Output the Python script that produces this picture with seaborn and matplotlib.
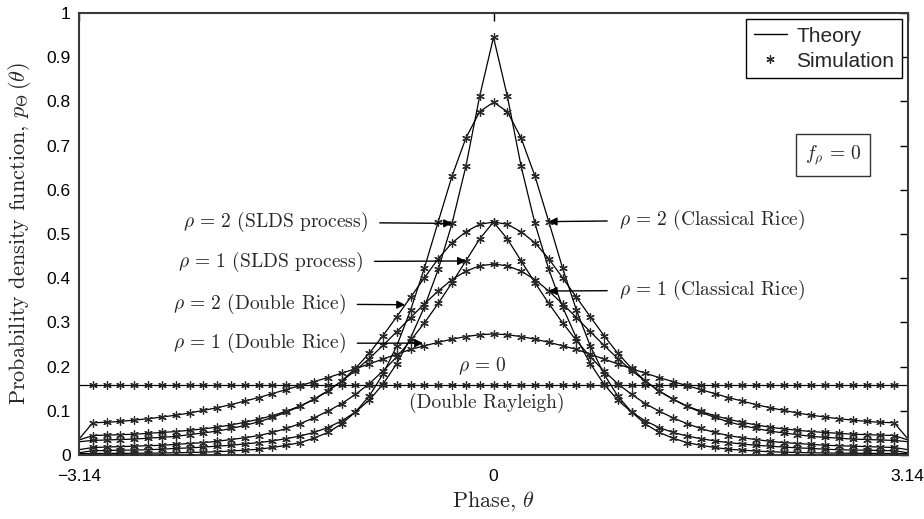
import numpy as np
import pandas as pd
import matplotlib
matplotlib.use("Agg")
import matplotlib.pyplot as plt
import seaborn as sns
from matplotlib.lines import Line2D

# ---------------- data ----------------
theta = np.linspace(-np.pi, np.pi, 61)

rho0_double_rayleigh = [0.159] * 61

rho2_slds = [0.005, 0.010, 0.010, 0.011, 0.011, 0.012, 0.013, 0.015, 0.016, 0.018,
             0.020, 0.022, 0.025, 0.028, 0.032, 0.037, 0.043, 0.051, 0.062, 0.077,
             0.097, 0.124, 0.160, 0.207, 0.265, 0.335, 0.420, 0.524, 0.653, 0.812,
             0.945,
             0.812, 0.653, 0.524, 0.420, 0.335, 0.265, 0.207, 0.160, 0.124, 0.097,
             0.077, 0.062, 0.051, 0.043, 0.037, 0.032, 0.028, 0.025, 0.022, 0.020,
             0.018, 0.016, 0.015, 0.013, 0.012, 0.011, 0.011, 0.010, 0.010, 0.005]

rho2_classical = [0.0030, 0.0035, 0.0036, 0.0038, 0.0040, 0.0042, 0.0045, 0.0050, 0.0056, 0.0064,
                  0.0074, 0.009, 0.011, 0.013, 0.017, 0.022, 0.028, 0.038, 0.051, 0.070,
                  0.097, 0.133, 0.183, 0.247, 0.328, 0.423, 0.528, 0.631, 0.717, 0.777,
                  0.798,
                  0.777, 0.717, 0.631, 0.528, 0.423, 0.328, 0.247, 0.183, 0.133, 0.097,
                  0.070, 0.051, 0.038, 0.028, 0.022, 0.017, 0.013, 0.011, 0.009, 0.0074,
                  0.0064, 0.0056, 0.0050, 0.0045, 0.0042, 0.0040, 0.0038, 0.0036, 0.0035, 0.0030]

rho1_slds = [0.012, 0.017, 0.018, 0.019, 0.020, 0.021, 0.022, 0.024, 0.026, 0.028,
             0.031, 0.035, 0.039, 0.044, 0.051, 0.060, 0.071, 0.084, 0.099, 0.116,
             0.137, 0.161, 0.190, 0.222, 0.259, 0.299, 0.343, 0.390, 0.439, 0.489,
             0.527,
             0.489, 0.439, 0.390, 0.343, 0.299, 0.259, 0.222, 0.190, 0.161, 0.137,
             0.116, 0.099, 0.084, 0.071, 0.060, 0.051, 0.044, 0.039, 0.035, 0.031,
             0.028, 0.026, 0.024, 0.022, 0.021, 0.020, 0.019, 0.018, 0.017, 0.012]

rho2_double_rice = [0.034, 0.044, 0.045, 0.046, 0.047, 0.049, 0.051, 0.053, 0.056, 0.059,
                    0.063, 0.068, 0.074, 0.081, 0.089, 0.099, 0.111, 0.126, 0.144, 0.167,
                    0.196, 0.230, 0.270, 0.313, 0.357, 0.401, 0.444, 0.480, 0.505, 0.522,
                    0.527,
                    0.522, 0.505, 0.480, 0.444, 0.401, 0.357, 0.313, 0.270, 0.230, 0.196,
                    0.167, 0.144, 0.126, 0.111, 0.099, 0.089, 0.081, 0.074, 0.068, 0.063,
                    0.059, 0.056, 0.053, 0.051, 0.049, 0.047, 0.046, 0.045, 0.044, 0.034]

rho1_classical = [0.030, 0.033, 0.034, 0.035, 0.036, 0.038, 0.040, 0.042, 0.046, 0.050,
                  0.054, 0.060, 0.067, 0.075, 0.085, 0.097, 0.110, 0.126, 0.145, 0.167,
                  0.191, 0.218, 0.248, 0.279, 0.311, 0.342, 0.371, 0.397, 0.416, 0.428,
                  0.432,
                  0.428, 0.416, 0.397, 0.371, 0.342, 0.311, 0.279, 0.248, 0.218, 0.191,
                  0.167, 0.145, 0.126, 0.110, 0.097, 0.085, 0.075, 0.067, 0.060, 0.054,
                  0.050, 0.046, 0.042, 0.040, 0.038, 0.036, 0.035, 0.034, 0.033, 0.030]

rho1_double_rice = [0.036, 0.073, 0.074, 0.076, 0.079, 0.082, 0.086, 0.090, 0.095, 0.101,
                    0.107, 0.114, 0.122, 0.130, 0.139, 0.148, 0.157, 0.166, 0.175, 0.185,
                    0.195, 0.206, 0.217, 0.228, 0.239, 0.247, 0.255, 0.262, 0.268, 0.272,
                    0.274,
                    0.272, 0.268, 0.262, 0.255, 0.247, 0.239, 0.228, 0.217, 0.206, 0.195,
                    0.185, 0.175, 0.166, 0.157, 0.148, 0.139, 0.130, 0.122, 0.114, 0.107,
                    0.101, 0.095, 0.090, 0.086, 0.082, 0.079, 0.076, 0.074, 0.073, 0.036]

curves = {
    "rho0": rho0_double_rayleigh,
    "rho2_slds": rho2_slds,
    "rho2_classical": rho2_classical,
    "rho1_slds": rho1_slds,
    "rho2_double_rice": rho2_double_rice,
    "rho1_classical": rho1_classical,
    "rho1_double_rice": rho1_double_rice,
}

x_ticks = [-3.14, 0, 3.14]
x_tick_labels = ["\u22123.14", "0", "3.14"]
y_ticks = [0, 0.1, 0.2, 0.3, 0.4, 0.5, 0.6, 0.7, 0.8, 0.9, 1.0]
y_tick_labels = ["0", "0.1", "0.2", "0.3", "0.4", "0.5", "0.6", "0.7", "0.8", "0.9", "1"]

# ---------------- build long tables ----------------
rows = []
for name, vals in curves.items():
    for i, (t, v) in enumerate(zip(theta, vals)):
        rows.append({"curve": name, "idx": i, "theta": t, "pdf": v})
df = pd.DataFrame(rows)
df_sim = df[(df["idx"] >= 1) & (df["idx"] <= 59)]

# ---------------- style ----------------
sns.set_theme(style="white")
plt.rcParams["font.family"] = ["Liberation Sans", "DejaVu Sans"]
plt.rcParams["mathtext.fontset"] = "cm"
plt.rcParams["axes.unicode_minus"] = True

fig = plt.figure(figsize=(9.24, 5.19), dpi=100)
ax = fig.add_axes([79 / 924, 64 / 519, 829 / 924, 442 / 519])

names = list(curves.keys())
sns.lineplot(data=df, x="theta", y="pdf", hue="curve", hue_order=names,
             palette=["black"] * len(names), estimator=None, sort=False,
             lw=0.9, ax=ax, legend=False)
sns.scatterplot(data=df_sim, x="theta", y="pdf", color="#2a2a2a",
                marker=(6, 2, 0), s=30, linewidth=0.9, ax=ax, legend=False,
                zorder=3)

ax.set_xlim(-np.pi, np.pi)
ax.set_ylim(0, 1)
ax.set_xticks(x_ticks)
ax.set_xticklabels(x_tick_labels)
ax.set_yticks(y_ticks)
ax.set_yticklabels(y_tick_labels)
ax.tick_params(direction="in", top=True, right=True, length=6, width=1,
               labelsize=12.5, colors="black", pad=6)
ax.tick_params(axis="x", pad=10)
for sp in ax.spines.values():
    sp.set_color("#3a3a3a")
    sp.set_linewidth(1.5)

serif = "cmr10"
ax.set_xlabel(r"Phase, $\theta$", fontsize=16, family=serif, labelpad=4)
ax.set_ylabel(r"Probability density function, $p_\Theta\,(\theta)$", fontsize=16,
              family=serif, labelpad=10)

# ---------------- annotations ----------------
arrow = dict(arrowstyle="-|>", color="black", lw=1.0, mutation_scale=12,
             shrinkA=6, shrinkB=0)
fs = 14
ax.annotate(r"$\rho\,=\,2$ (SLDS process)", xy=(theta[27], rho2_slds[27]),
            xytext=(-0.95, 0.527), ha="right", va="center", fontsize=fs,
            family=serif, arrowprops=arrow)
ax.annotate(r"$\rho\,=\,1$ (SLDS process)", xy=(theta[28], rho1_slds[28]),
            xytext=(-0.99, 0.437), ha="right", va="center", fontsize=fs,
            family=serif, arrowprops=arrow)
ax.annotate(r"$\rho\,=\,2$ (Double Rice)", xy=(-0.67, 0.340),
            xytext=(-1.12, 0.342), ha="right", va="center", fontsize=fs,
            family=serif, arrowprops=arrow)
ax.annotate(r"$\rho\,=\,1$ (Double Rice)", xy=(-0.534, 0.253),
            xytext=(-1.12, 0.253), ha="right", va="center", fontsize=fs,
            family=serif, arrowprops=arrow)
ax.annotate(r"$\rho\,=\,2$ (Classical Rice)", xy=(theta[34], rho2_classical[34]),
            xytext=(0.95, 0.532), ha="left", va="center", fontsize=fs,
            family=serif, arrowprops=arrow)
ax.annotate(r"$\rho\,=\,1$ (Classical Rice)", xy=(theta[34], rho1_classical[34]),
            xytext=(0.95, 0.373), ha="left", va="center", fontsize=fs,
            family=serif, arrowprops=arrow)
ax.text(-0.085, 0.20, r"$\rho\,=\,0$", ha="center", va="center", fontsize=fs,
        family=serif)
ax.text(-0.05, 0.118, "(Double Rayleigh)", ha="center", va="center", fontsize=fs,
        family=serif)
ax.text(2.575, 0.679, r"$f_\rho\,=\,0$", ha="center", va="center", fontsize=fs,
        family=serif,
        bbox=dict(boxstyle="square,pad=0.45", fc="white", ec="#333333", lw=1.0))

# ---------------- legend ----------------
handles = [Line2D([], [], color="black", lw=1.0),
           Line2D([], [], color="#2a2a2a", marker=(6, 2, 0), linestyle="",
                  markersize=6, markeredgewidth=0.9)]
leg = ax.legend(handles, ["Theory", "Simulation"], loc="upper right",
                fontsize=15, frameon=True, fancybox=False, edgecolor="black",
                framealpha=1, borderaxespad=0.3, handlelength=1.6,
                handletextpad=0.45, borderpad=0.35, labelspacing=0.3)
leg.get_frame().set_linewidth(1.0)

fig.savefig("out.png", dpi=100)
